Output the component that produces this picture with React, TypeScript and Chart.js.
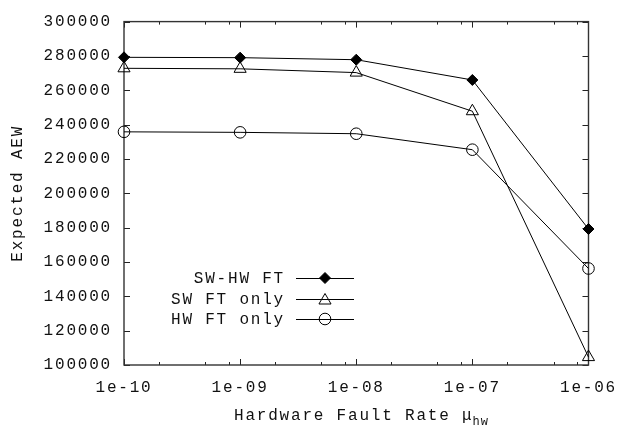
import React, { useEffect, useRef } from "react";
import { Chart, registerables } from "chart.js";
import { drawPoint } from "chart.js/helpers";

Chart.register(...registerables);

const faultRates = [1e-10, 1e-9, 1e-8, 1e-7, 1e-6];
const xTickLabels = ["1e-10", "1e-09", "1e-08", "1e-07", "1e-06"];
const minorMultipliers = [2, 5, 8];
const swHwFt = [279200, 279000, 277800, 266000, 179200];
const swFtOnly = [272800, 272500, 270300, 247800, 104600];
const hwFtOnly = [235800, 235500, 234700, 225400, 156200];
const seriesNames = ["SW-HW FT", "SW FT only", "HW FT only"];
const yMin = 100000;
const yMax = 300000;
const yStep = 20000;

const FONT = "Liberation Mono";
const FONT_SIZE = 16;
const LETTER_SPACING = "1.8px";
const TEXT_COLOR = "#111";

function setSpacing(chart: any) {
  try {
    (chart.ctx as any).letterSpacing = LETTER_SPACING;
  } catch (e) {}
}

const spacingPlugin = {
  id: "spacing",
  beforeUpdate: setSpacing,
  beforeLayout: setSpacing,
  beforeDraw: setSpacing,
};

const framePlugin = {
  id: "frame",
  beforeDatasetsDraw(chart: any) {
    const { ctx, chartArea: a, scales } = chart;
    const xs = scales.x;
    const ys = scales.y;
    ctx.save();
    ctx.strokeStyle = "#222";
    ctx.lineWidth = 1;
    const major = 6;
    const minor = 3;
    ctx.beginPath();
    for (let v = yMin; v <= yMax; v += yStep) {
      const py = Math.round(ys.getPixelForValue(v)) + 0.5;
      ctx.moveTo(a.left, py);
      ctx.lineTo(a.left + major, py);
      ctx.moveTo(a.right, py);
      ctx.lineTo(a.right - major, py);
    }
    for (let i = 0; i < faultRates.length; i++) {
      const d = faultRates[i];
      const px = Math.round(xs.getPixelForValue(d)) + 0.5;
      ctx.moveTo(px, a.bottom);
      ctx.lineTo(px, a.bottom - major);
      ctx.moveTo(px, a.top);
      ctx.lineTo(px, a.top + major);
      if (i < faultRates.length - 1) {
        for (const m of minorMultipliers) {
          const mx = Math.round(xs.getPixelForValue(d * m)) + 0.5;
          ctx.moveTo(mx, a.bottom);
          ctx.lineTo(mx, a.bottom - minor);
          ctx.moveTo(mx, a.top);
          ctx.lineTo(mx, a.top + minor);
        }
      }
    }
    ctx.stroke();
    ctx.lineWidth = 1.4;
    ctx.strokeStyle = "#333";
    ctx.strokeRect(a.left, a.top, a.right - a.left, a.bottom - a.top);
    ctx.restore();
  },
};

const textPlugin = {
  id: "texts",
  afterDraw(chart: any) {
    const { ctx, chartArea: a } = chart;
    ctx.save();
    (ctx as any).letterSpacing = LETTER_SPACING;
    ctx.fillStyle = TEXT_COLOR;
    ctx.font = `${FONT_SIZE}px "${FONT}"`;
    ctx.textBaseline = "alphabetic";
    ctx.textAlign = "left";
    const main = "Hardware Fault Rate μ";
    const startX = 234;
    ctx.fillText(main, startX, 420);
    const w = ctx.measureText(main).width;
    ctx.font = `12px "${FONT}"`;
    (ctx as any).letterSpacing = "1px";
    ctx.fillText("hw", startX + w - 1, 425);
    (ctx as any).letterSpacing = LETTER_SPACING;
    ctx.font = `${FONT_SIZE}px "${FONT}"`;
    ctx.translate(18, (a.top + a.bottom) / 2);
    ctx.rotate(-Math.PI / 2);
    ctx.textAlign = "center";
    ctx.textBaseline = "middle";
    ctx.fillText("Expected AEW", 0, 0);
    ctx.restore();

    ctx.save();
    (ctx as any).letterSpacing = LETTER_SPACING;
    ctx.font = `${FONT_SIZE}px "${FONT}"`;
    ctx.textAlign = "right";
    ctx.textBaseline = "middle";
    const rows = [278, 299, 319];
    chart.data.datasets.forEach((ds: any, i: number) => {
      const y = rows[i];
      ctx.fillStyle = TEXT_COLOR;
      ctx.fillText(ds.label, 285, y + 1);
      ctx.strokeStyle = "#000";
      ctx.lineWidth = 1;
      ctx.beginPath();
      ctx.moveTo(296, y + 0.5);
      ctx.lineTo(354, y + 0.5);
      ctx.stroke();
      ctx.fillStyle = ds.pointBackgroundColor;
      ctx.strokeStyle = "#000";
      drawPoint(
        ctx,
        {
          pointStyle: ds.pointStyle,
          radius: ds.pointRadius,
          borderWidth: 1,
          rotation: 0,
        } as any,
        325,
        y + (ds.pointStyle === "triangle" ? 1.5 : 0)
      );
    });
    ctx.restore();
  },
};

export default function App() {
  const ref = useRef<HTMLCanvasElement | null>(null);
  useEffect(() => {
    if (!ref.current) return;
    const mk = (vals: number[]) => faultRates.map((x, i) => ({ x, y: vals[i] }));
    const chart = new Chart(ref.current, {
      type: "scatter",
      data: {
        datasets: [
          {
            label: seriesNames[0],
            data: mk(swHwFt),
            showLine: true,
            borderColor: "#000",
            borderWidth: 1,
            pointStyle: "rectRot",
            pointRadius: 5.5,
            pointBackgroundColor: "#000",
            pointBorderColor: "#000",
            pointBorderWidth: 1,
            clip: false,
          },
          {
            label: seriesNames[1],
            data: mk(swFtOnly),
            showLine: true,
            borderColor: "#000",
            borderWidth: 1,
            pointStyle: "triangle",
            pointRadius: 7,
            pointBackgroundColor: "rgba(255,255,255,0)",
            pointBorderColor: "#000",
            pointBorderWidth: 1,
            clip: false,
          },
          {
            label: seriesNames[2],
            data: mk(hwFtOnly),
            showLine: true,
            borderColor: "#000",
            borderWidth: 1,
            pointStyle: "circle",
            pointRadius: 5.8,
            pointBackgroundColor: "rgba(255,255,255,0)",
            pointBorderColor: "#000",
            pointBorderWidth: 1,
            clip: false,
          },
        ],
      } as any,
      options: {
        animation: false,
        responsive: false,
        maintainAspectRatio: false,
        layout: { padding: { top: 12, right: 41, left: 0, bottom: 0 } },
        plugins: {
          legend: { display: false },
          tooltip: { enabled: false },
        },
        scales: {
          x: {
            type: "logarithmic",
            min: faultRates[0],
            max: faultRates[faultRates.length - 1],
            grid: { display: false, drawTicks: false },
            border: { display: false },
            afterBuildTicks: (scale: any) => {
              scale.ticks = faultRates.map((v) => ({ value: v }));
            },
            afterFit: (scale: any) => {
              scale.height = 63;
            },
            ticks: {
              autoSkip: false,
              maxRotation: 0,
              padding: 13,
              color: TEXT_COLOR,
              font: { family: FONT, size: FONT_SIZE },
              callback: (v: any) => {
                const idx = faultRates.findIndex((f) => Math.abs(f - v) / f < 1e-6);
                return idx >= 0 ? xTickLabels[idx] : "";
              },
            },
          },
          y: {
            type: "linear",
            min: yMin,
            max: yMax,
            grid: { display: false, drawTicks: false },
            border: { display: false },
            afterFit: (scale: any) => {
              scale.width = 124;
            },
            ticks: {
              stepSize: yStep,
              padding: 12,
              color: TEXT_COLOR,
              font: { family: FONT, size: FONT_SIZE },
              callback: (v: any) => String(v),
            },
          },
        },
      } as any,
      plugins: [spacingPlugin, framePlugin, textPlugin],
    });
    return () => chart.destroy();
  }, []);
  return (
    <div style={{ position: "fixed", left: 0, top: 0, width: 630, height: 428, background: "#fff" }}>
      <canvas ref={ref} width={630} height={428} style={{ width: 630, height: 428, display: "block" }} />
    </div>
  );
}
